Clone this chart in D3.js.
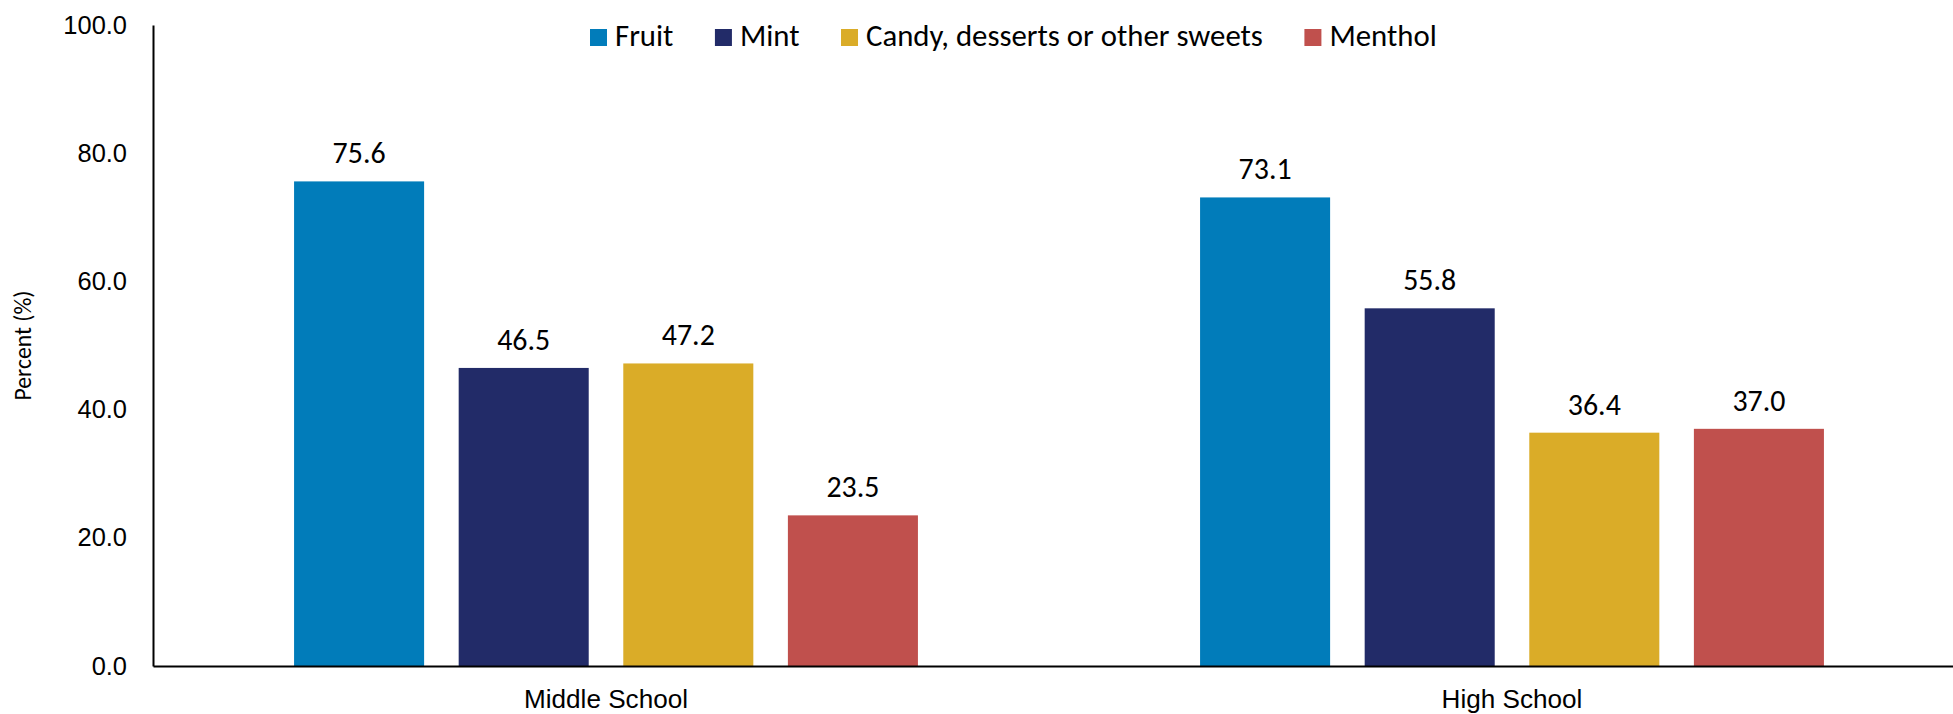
<!DOCTYPE html>
<html>
<head>
<meta charset="utf-8">
<script src="https://cdn.jsdelivr.net/npm/d3@7"></script>
<style>
  html, body { margin: 0; padding: 0; background: #ffffff; }
  svg { display: block; font-family: Calibri, Carlito, Lato, "Open Sans", sans-serif; }
</style>
</head>
<body>
<svg id="chart" width="1953" height="714"></svg>
<script>
// Flavour data by school level (percent)
const groups = ["Middle School", "High School"];
const flavours = ["Fruit", "Mint", "Candy, desserts or other sweets", "Menthol"];
const fruit = [75.6, 73.1];
const mint = [46.5, 55.8];
const candy = [47.2, 36.4];
const menthol = [23.5, 37.0];
const yTicks = [0, 20, 40, 60, 80, 100];
const colors = ["#017cba", "#222b68", "#daac28", "#c0504d"];

const seriesValues = [fruit, mint, candy, menthol];
const rows = [];
groups.forEach((g, gi) => {
  flavours.forEach((f, fi) => {
    rows.push({ group: g, flavour: f, value: seriesValues[fi][gi], color: colors[fi] });
  });
});

const svg = d3.select("#chart");

// Pick a font size so that a sample string spans the wanted width
function fitSize(sample, width) {
  const probe = svg.append("text").attr("font-size", 100).text(sample);
  const w = probe.node().getComputedTextLength();
  probe.remove();
  return 100 * width / w;
}
const fsLegend = fitSize("Candy, desserts or other sweets", 397);
const fsValue = fitSize("73.1", 53);
const fsTick = fitSize("100.0", 58);
const fsCat = fitSize("Middle School", 151);
const fsTitle = fitSize("Percent (%)", 110);

const margin = { left: 153, right: -12, top: 25, bottom: 48 };
const W = 1953, H = 714;
const plotBottom = H - margin.bottom;

const x0 = d3.scaleBand().domain(groups).range([margin.left, W - margin.right]).paddingInner(0).paddingOuter(0);
const x1 = d3.scaleBand().domain(flavours).range([0, x0.bandwidth()]).paddingInner(0.21).paddingOuter(0.857);
const y = d3.scaleLinear().domain([0, 100]).range([plotBottom, margin.top]);

// Bars
svg.append("g").selectAll("rect").data(rows).join("rect")
  .attr("x", d => x0(d.group) + x1(d.flavour))
  .attr("y", d => y(d.value))
  .attr("width", x1.bandwidth())
  .attr("height", d => y(0) - y(d.value))
  .attr("fill", d => d.color);

// Value labels
svg.append("g").selectAll("text").data(rows).join("text")
  .attr("x", d => x0(d.group) + x1(d.flavour) + x1.bandwidth() / 2)
  .attr("y", d => y(d.value) - 18)
  .attr("text-anchor", "middle")
  .attr("font-size", fsValue)
  .attr("fill", "#000000")
  .text(d => d.value.toFixed(1));

// Y axis
const yAxis = d3.axisLeft(y).tickValues(yTicks).tickFormat(d3.format(".1f")).tickSize(0).tickPadding(26);
const gy = svg.append("g").attr("transform", `translate(${margin.left},0)`).call(yAxis);
gy.select(".domain").attr("stroke", "#000").attr("stroke-width", 2);
gy.selectAll("text").attr("font-size", fsTick).attr("fill", "#000").attr("font-family", null);

// X axis
const xAxis = d3.axisBottom(x0).tickSize(0);
const gx = svg.append("g").attr("transform", `translate(0,${plotBottom})`).call(xAxis);
gx.select(".domain").attr("stroke", "#000").attr("stroke-width", 2);
gx.selectAll("text").attr("y", 42).attr("dy", null)
  .attr("font-size", fsCat).attr("fill", "#000").attr("font-family", null);

// Y axis title, centred on the plot height
svg.append("text")
  .attr("transform", `translate(31,${(y(0) + y(100)) / 2}) rotate(-90)`)
  .attr("text-anchor", "middle")
  .attr("font-size", fsTitle)
  .attr("fill", "#000")
  .text("Percent (%)");

// Legend
const legend = svg.append("g").attr("transform", "translate(590,0)");
let lx = 0;
flavours.forEach((f, i) => {
  const item = legend.append("g").attr("transform", `translate(${lx},0)`);
  item.append("rect").attr("x", 0).attr("y", 29).attr("width", 17).attr("height", 17).attr("fill", colors[i]);
  const t = item.append("text").attr("x", 25).attr("y", 46)
    .attr("font-size", fsLegend).attr("fill", "#000").text(f);
  lx += 25 + t.node().getComputedTextLength() + 41.5;
});
</script>
</body>
</html>
